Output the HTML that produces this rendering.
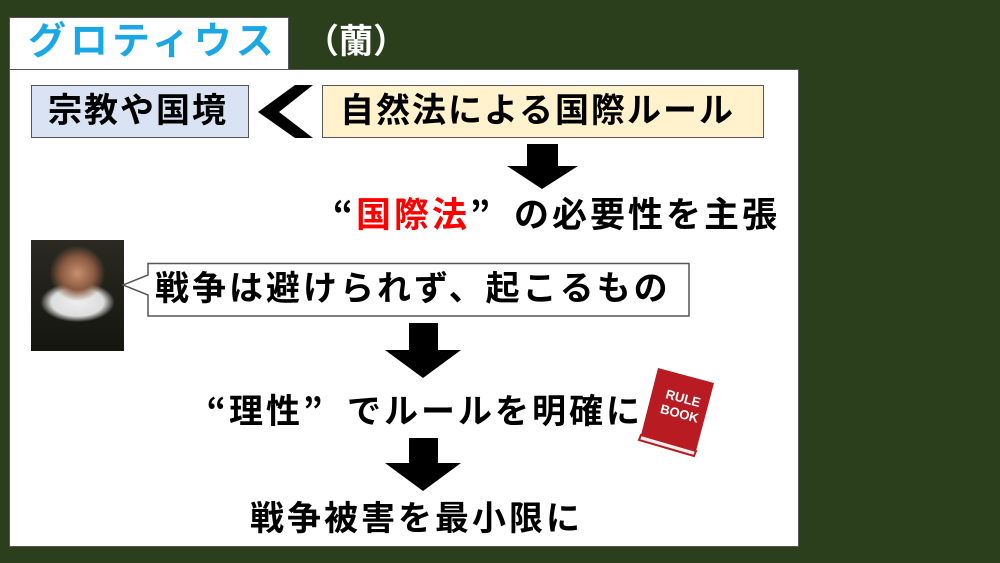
<!DOCTYPE html>
<html><head><meta charset="utf-8"><style>
body{margin:0;width:1000px;height:563px;background:#2c3f1c;position:relative;overflow:hidden;font-family:"Liberation Sans","Noto Sans CJK JP",sans-serif;font-weight:bold}
div{position:absolute;box-sizing:border-box;white-space:nowrap}
.t{font-size:34px;line-height:1;color:#000;letter-spacing:2px}
.q{font-family:"Noto Sans CJK JP",sans-serif;display:inline-block;width:34px;text-align:center}
</style></head><body>
<div style="left:9px;top:17px;width:280px;height:53px;background:#fff;border:1px solid #555"></div>
<div style="left:28px;top:20px;font-size:38px;color:#1aa7e6;letter-spacing:4px;line-height:44px">グロティウス</div>
<div style="left:305px;top:22px;font-size:34px;color:#fff;line-height:40px">（蘭）</div>
<div style="left:9px;top:69px;width:790px;height:478px;background:#fff;border:1px solid #555"></div>
<div style="left:31px;top:85px;width:218px;height:53px;background:#dae3f3;border:1.5px solid #555"></div>
<div class="t" style="left:48px;top:94px">宗教や国境</div>
<svg style="position:absolute;left:255px;top:84px" width="60" height="56"><polygon points="58,1 40,1 3,28 40,54 58,54 24,28" fill="#000"/></svg>
<div style="left:322px;top:85px;width:442px;height:53px;background:#fff2cc;border:1.5px solid #555"></div>
<div class="t" style="left:340px;top:94px">自然法による国際ルール</div>
<svg style="position:absolute;left:505px;top:143px" width="75" height="48"><polygon points="22,1 53,1 53,23 73,23 37,46 2,23 22,23" fill="#000"/></svg>
<div class="t" style="left:322px;top:195px;font-size:35px;letter-spacing:3px"><span class="q" style="text-align:right">“</span><span style="color:#f00">国際法</span><span class="q" style="text-align:left;width:44px">”</span>の必要性を主張</div>
<div style="left:31px;top:240px;width:93px;height:111px;background:radial-gradient(ellipse 30% 25% at 50% 30%,#c89070 0%,#8a5a40 60%,transparent 100%),radial-gradient(ellipse 40% 18% at 50% 56%,#eee 0%,#ddd 70%,transparent 100%),linear-gradient(#2a2a22,#151510)"></div>
<svg style="position:absolute;left:120px;top:262px" width="575" height="56"><path d="M28,1.5 H569 V54 H28 V33 L3,23 L28,13 Z" fill="#fff" stroke="#555" stroke-width="1.5"/></svg>
<div class="t" style="left:155px;top:272px;letter-spacing:3px">戦争は避けられず、起こるもの</div>
<svg style="position:absolute;left:383px;top:322px" width="80" height="58"><polygon points="26,1 55,1 55,28 78,28 40,56 2,28 26,28" fill="#000"/></svg>
<div class="t" style="left:195px;top:392px;letter-spacing:3px"><span class="q" style="text-align:right">“</span>理性<span class="q" style="text-align:left;width:44px">”</span>でルールを明確に</div>
<svg style="position:absolute;left:636px;top:363px" width="82" height="95"><polygon points="22,5 78,20 60,88 5,72" fill="#b81c22"/><polygon points="5,72 60,88 58,93 3,77" fill="#eee" stroke="#b81c22" stroke-width="2"/><text x="28" y="38" font-size="13" fill="#fff" font-family="Liberation Sans" font-weight="bold" transform="rotate(15 40 40)">RULE</text><text x="24" y="54" font-size="13" fill="#fff" font-family="Liberation Sans" font-weight="bold" transform="rotate(15 40 50)">BOOK</text></svg>
<svg style="position:absolute;left:383px;top:437px" width="80" height="56"><polygon points="26,1 55,1 55,26 78,26 40,54 2,26 26,26" fill="#000"/></svg>
<div class="t" style="left:250px;top:502px;letter-spacing:3px">戦争被害を最小限に</div>
</body></html>
